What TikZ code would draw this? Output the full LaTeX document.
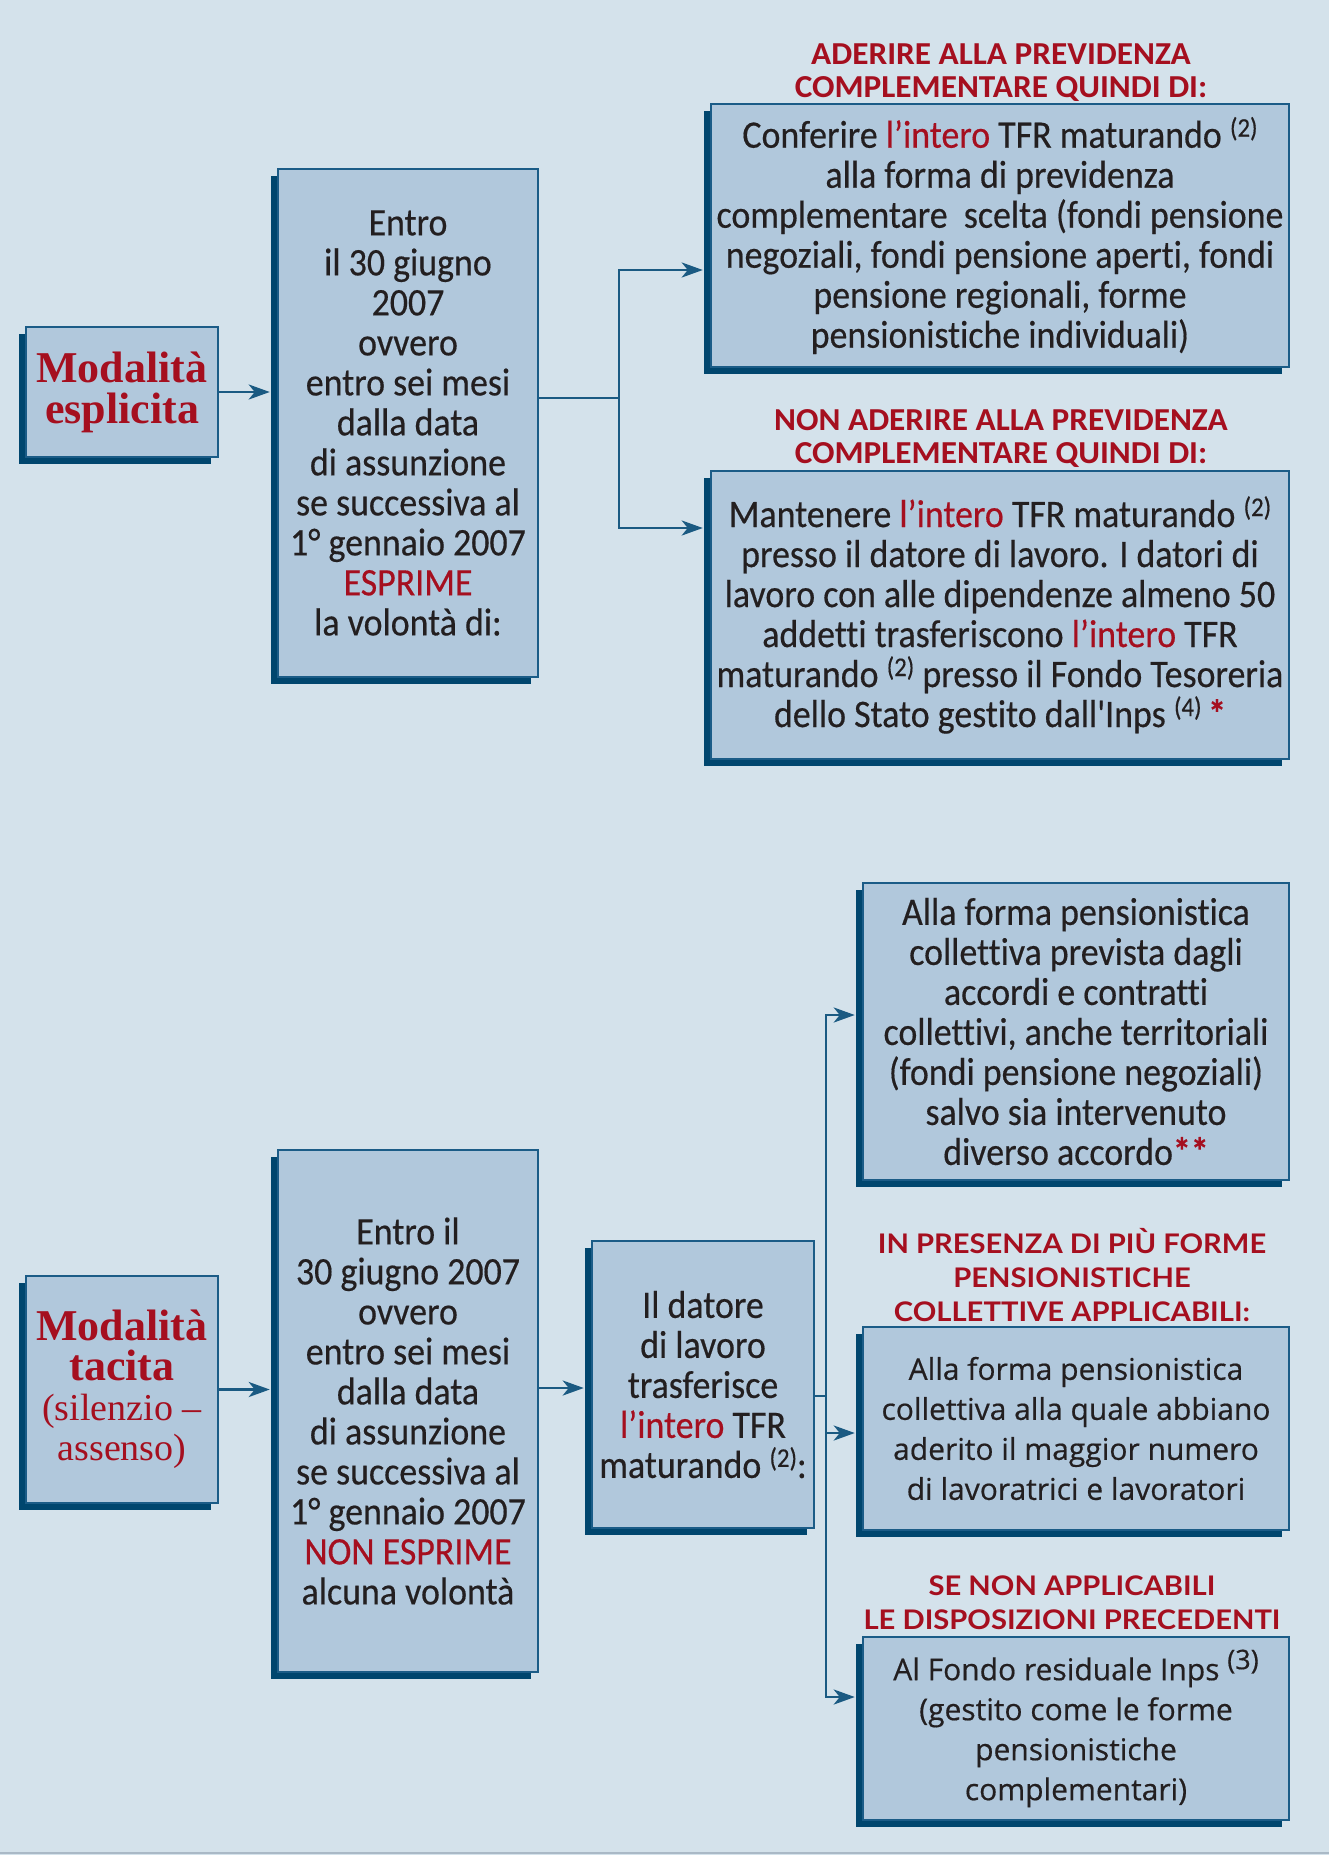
\documentclass[tikz,border=0pt]{standalone}
\usepackage{fontspec}
\setmainfont{Carlito}
\newfontfamily\bodyf[FakeStretch=0.92,FakeBold=0.4,RawFeature={-liga}]{Carlito}
\newfontfamily\widef[FakeBold=0.5]{Open Sans}
\newfontfamily\headf[FakeStretch=1.04]{Carlito}
\newfontfamily\wheadf[FakeStretch=1.08]{Lato}
\newfontfamily\titlef{Liberation Serif}
\usetikzlibrary{arrows.meta,shadows}
\definecolor{bgc}{HTML}{D4E2EB}
\definecolor{boxc}{HTML}{B1C8DC}
\definecolor{bordc}{HTML}{1B5C87}
\definecolor{shadc}{HTML}{00466E}
\definecolor{lnc}{HTML}{1A5A82}
\definecolor{txtc}{HTML}{231F20}
\definecolor{redc}{HTML}{A50F1F}
\definecolor{botc}{HTML}{AAB9C6}
\newcommand\rd[1]{\textcolor{redc}{#1}}
\newcommand\sn[1]{\raisebox{11pt}{\fontsize{27}{27}\selectfont(#1)}}
\newcommand\tbig{\bfseries\fontsize{44}{43}\selectfont}
\begin{document}
\begin{tikzpicture}[x=1pt,y=-1pt,
  box/.style={draw=bordc, line width=2.5pt, fill=boxc, inner sep=0pt, align=center, text=txtc,
    drop shadow={shadow xshift=-7pt, shadow yshift=-7pt, opacity=1, fill=shadc}},
  bodytext/.style={font=\bodyf\fontsize{39}{40}\selectfont},
  widetext/.style={font=\widef\fontsize{30}{40}\selectfont},
  lab/.style={align=center, text=redc, inner sep=0pt, font=\headf\bfseries\fontsize{32}{33}\selectfont},
  wlab/.style={align=center, text=redc, inner sep=0pt, font=\wheadf\bfseries\fontsize{27}{34}\selectfont},
  conn/.style={draw=lnc, line width=2.8pt},
  arr/.style={conn, -{Stealth[length=21pt,width=15pt,inset=6pt]}, shorten >=7pt}]
\useasboundingbox (0,0) rectangle (1329,1855);
\fill[bgc] (0,0) rectangle (1329,1855);
\draw[line width=2pt, draw=botc] (0,1853) -- (1329,1853);

% ---------- top section ----------
\node[box, minimum width=192pt, minimum height=130pt, text=redc,
  font=\titlef\bfseries\fontsize{44}{41}\selectfont] (mesp) at (122,392) {Modalità\\esplicita};

\node[box, bodytext, minimum width=260pt, minimum height=508pt] (entro1) at (408,423)
 {Entro\\il 30 giugno\\2007\\ovvero\\entro sei mesi\\dalla data\\di assunzione\\se successiva al\\1° gennaio 2007\\\rd{ESPRIME}\\la volontà di:};

\node[lab] (labA) at (1001,73) {ADERIRE ALLA PREVIDENZA\\COMPLEMENTARE QUINDI DI:};
\node[box, bodytext, minimum width=578pt, minimum height=263pt] (boxA) at (1000,235.5)
 {Conferire \rd{l’intero} TFR maturando \sn{2}\\alla forma di previdenza\\complementare\ \ scelta (fondi pensione\\negoziali, fondi pensione aperti, fondi\\pensione regionali, forme\\pensionistiche individuali)};

\node[lab] (labB) at (1001,439) {NON ADERIRE ALLA PREVIDENZA\\COMPLEMENTARE QUINDI DI:};
\node[box, bodytext, minimum width=578pt, minimum height=288pt] (boxB) at (1000,615)
 {Mantenere \rd{l’intero} TFR maturando \sn{2}\\presso il datore di lavoro. I datori di\\lavoro con alle dipendenze almeno 50\\addetti trasferiscono \rd{l’intero} TFR\\maturando \sn{2} presso il Fondo Tesoreria\\dello Stato gestito dall'Inps \sn{4}\,\rd{\bfseries*}};

\draw[arr] (mesp.east) -- (mesp.east -| entro1.west);
\coordinate (fk) at (619,398);
\coordinate (fa) at (619,270);
\coordinate (fb) at (619,528);
\draw[conn] (entro1.east |- fk) -- (fk);
\draw[arr] (fb) -- (fa) -- (fa -| boxA.west);
\draw[arr] (fa) -- (fb) -- (fb -| boxB.west);

% ---------- bottom section ----------
\node[box, minimum width=192pt, minimum height=227pt, text=redc,
  font=\titlef\fontsize{38}{40}\selectfont] (mtac) at (122,1389.5)
 {{\tbig Modalità}\\{\tbig tacita}\\(silenzio –\\assenso)};

\node[box, bodytext, minimum width=260pt, minimum height=522pt] (entro2) at (408,1411)
 {Entro il\\30 giugno 2007\\ovvero\\entro sei mesi\\dalla data\\di assunzione\\se successiva al\\1° gennaio 2007\\\rd{NON ESPRIME}\\alcuna volontà};

\node[box, bodytext, minimum width=222pt, minimum height=287pt] (dat) at (703,1384.5)
 {Il datore\\di lavoro\\trasferisce\\\rd{l’intero} TFR\\maturando \sn{2}:};

\node[box, bodytext, minimum width=426pt, minimum height=297pt] (boxC) at (1076,1031.5)
 {Alla forma pensionistica\\collettiva prevista dagli\\accordi e contratti\\collettivi, anche territoriali\\(fondi pensione negoziali)\\salvo sia intervenuto\\diverso accordo\rd{\bfseries**}};

\node[wlab] (labC) at (1072,1275) {IN PRESENZA DI PIÙ FORME\\PENSIONISTICHE\\COLLETTIVE APPLICABILI:};
\node[box, widetext, minimum width=426pt, minimum height=203pt] (boxD) at (1076,1428.5)
 {Alla forma pensionistica\\collettiva alla quale abbiano\\aderito il maggior numero\\di lavoratrici e lavoratori};

\node[wlab] (labD) at (1072,1603) {SE NON APPLICABILI\\LE DISPOSIZIONI PRECEDENTI};
\node[box, widetext, minimum width=426pt, minimum height=183pt] (boxE) at (1076,1728.5)
 {Al Fondo residuale Inps \sn{3}\\(gestito come le forme\\pensionistiche\\complementari)};

\draw[arr] (mtac.east) -- (mtac.east -| entro2.west);
\coordinate (ea) at (560,1388);
\draw[arr] (entro2.east |- ea) -- (dat.west |- ea);
\coordinate (vj) at (826,1396);
\coordinate (vt) at (826,1015);
\coordinate (vm) at (826,1433);
\coordinate (vb) at (826,1697);
\draw[conn] (dat.east |- vj) -- (vj);
\draw[arr] (vb) -- (vt) -- (vt -| boxC.west);
\draw[arr] (vt) -- (vb) -- (vb -| boxE.west);
\draw[arr] (vm) -- (vm -| boxD.west);
\end{tikzpicture}
\end{document}
